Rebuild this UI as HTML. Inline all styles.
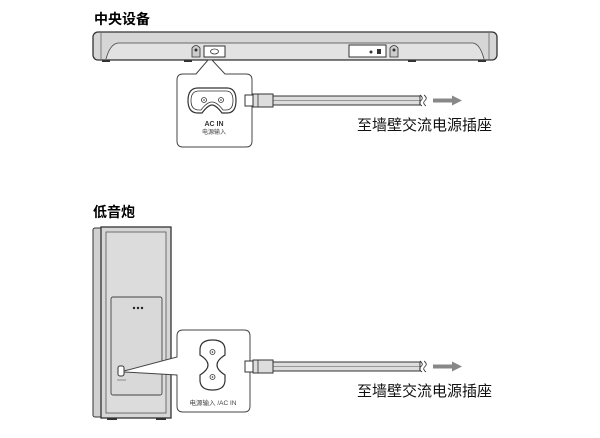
<!DOCTYPE html>
<html><head><meta charset="utf-8"><style>
html,body{margin:0;padding:0;background:#fff;}
svg{display:block;}
text{font-family:"Liberation Sans","Noto Sans CJK SC",sans-serif;}
</style></head><body>
<svg width="600" height="438" viewBox="0 0 600 438" xmlns="http://www.w3.org/2000/svg">
<!-- Titles -->
<text x="94" y="24" font-size="14" font-weight="bold" fill="#000">中央设备</text>
<text x="93" y="217" font-size="14" font-weight="bold" fill="#000">低音炮</text>

<!-- Soundbar -->
<rect x="93" y="32" width="404" height="28" rx="5" fill="#d6d6d6" stroke="#333" stroke-width="1.3"/>
<line x1="101" y1="33" x2="101" y2="59" stroke="#666" stroke-width="0.8"/>
<line x1="489" y1="33" x2="489" y2="59" stroke="#666" stroke-width="0.8"/>
<path d="M106 59 Q110 44 118 43 L473 43 Q480 44 484 59" fill="#e2e2e2" stroke="#444" stroke-width="0.8"/>
<rect x="102" y="60" width="8" height="2" fill="#333"/>
<rect x="184" y="60" width="8" height="2" fill="#333"/>
<rect x="408" y="60" width="8" height="2" fill="#333"/>
<rect x="478" y="60" width="8" height="2" fill="#333"/>
<!-- screw mounts -->
<path d="M192 57 L192 48 Q196 43 200 48 L200 57 Z" fill="#ccc" stroke="#333" stroke-width="0.8"/>
<circle cx="196" cy="50" r="1.5" fill="#333"/>
<path d="M390 57 L390 48 Q394 43 398 48 L398 57 Z" fill="#ccc" stroke="#333" stroke-width="0.8"/>
<circle cx="394" cy="50" r="1.5" fill="#333"/>
<!-- connector -->
<rect x="204" y="46" width="21" height="11" fill="#fff" stroke="#333" stroke-width="1"/>
<ellipse cx="214.5" cy="51.5" rx="4" ry="2.5" fill="#fff" stroke="#333" stroke-width="0.8"/>
<rect x="349" y="45" width="37" height="12" fill="#fff" stroke="#333" stroke-width="1"/>
<circle cx="371" cy="52" r="1.5" fill="#333"/>
<rect x="377" y="49" width="4" height="5" fill="#333"/>

<!-- Callout 1 -->
<path d="M196 74 L208 60 L212 60 L225 74 L246 74 Q252 74 252 80 L252 141 Q252 147 246 147 L183 147 Q177 147 177 141 L177 80 Q177 74 183 74 Z" fill="#fff" stroke="#444" stroke-width="1"/>
<path d="M198 88 L227 88 Q236 88 236 100.5 Q236 113 227 113 L222 113 Q216 105 212 105 Q208 105 202 113 L198 113 Q188 113 188 100.5 Q188 88 198 88 Z" fill="#fff" stroke="#333" stroke-width="1.2"/>
<path d="M199 91 L226 91 Q233 91 233 100.5 Q233 110 226 110 L223 110 Q217 102 212 102 Q207 102 201 110 L199 110 Q191 110 191 100.5 Q191 91 199 91 Z" fill="none" stroke="#333" stroke-width="0.8"/>
<circle cx="204" cy="100" r="2.5" fill="none" stroke="#333" stroke-width="0.8"/><circle cx="204" cy="100" r="0.8" fill="#333"/>
<circle cx="221" cy="100" r="2.5" fill="none" stroke="#333" stroke-width="0.8"/><circle cx="221" cy="100" r="0.8" fill="#333"/>
<text x="214" y="126" font-size="7" font-weight="bold" text-anchor="middle" fill="#333">AC IN</text>
<text x="214" y="134" font-size="6" text-anchor="middle" fill="#444">电源输入</text>

<!-- Plug/cable 1 -->
<g id="plug1">
<rect x="245" y="95" width="8" height="11" fill="#fff" stroke="#333" stroke-width="1"/>
<rect x="253" y="94" width="20" height="13" fill="#ddd" stroke="#333" stroke-width="1"/>
<line x1="258" y1="94" x2="258" y2="107" stroke="#333" stroke-width="0.8"/>
<rect x="273" y="96" width="147" height="9" fill="#ddd" stroke="#333" stroke-width="1"/>
<line x1="273" y1="100.5" x2="420" y2="100.5" stroke="#555" stroke-width="0.6"/>
<path d="M420 95 Q424 98 421 100.5 Q418 103 422 106" fill="none" stroke="#333" stroke-width="0.8"/>
<path d="M424 95 Q428 98 425 100.5 Q422 103 426 106" fill="none" stroke="#333" stroke-width="0.8"/>
<path d="M433 98.5 L452 98.5 L452 95.5 L462 100.5 L452 105.5 L452 102.5 L433 102.5 Z" fill="#888"/>
</g>
<text x="357" y="130" font-size="15" fill="#111">至墙壁交流电源插座</text>

<!-- Subwoofer -->
<rect x="93" y="228" width="10" height="189" rx="2" fill="#d0d0d0" stroke="#333" stroke-width="1"/>
<rect x="101" y="227" width="70" height="191" fill="#d6d6d6" stroke="#333" stroke-width="1.3"/>
<rect x="106" y="232" width="60" height="181" fill="#dcdcdc" stroke="#555" stroke-width="0.8"/>
<rect x="111" y="297" width="51" height="98" rx="2" fill="#d9d9d9" stroke="#444" stroke-width="0.9"/>
<circle cx="134" cy="308" r="1.2" fill="#222"/><circle cx="138" cy="308" r="1.2" fill="#222"/><circle cx="142" cy="308" r="1.2" fill="#222"/>
<rect x="118" y="366" width="6" height="10" rx="2" fill="#fff" stroke="#333" stroke-width="1"/>
<line x1="117" y1="380" x2="126" y2="380" stroke="#555" stroke-width="0.6"/>
<rect x="107" y="418" width="10" height="2" fill="#333"/>
<rect x="156" y="418" width="10" height="2" fill="#333"/>

<!-- Callout 2 -->
<path d="M124 371 L177 357 L177 336 Q177 330 183 330 L244 330 Q250 330 250 336 L250 406 Q250 412 244 412 L183 412 Q177 412 177 406 L177 375 L124 372 Z" fill="#fff" stroke="#444" stroke-width="1"/>
<path d="M200 350 Q200 340 212.5 340 Q225 340 225 350 L225 355 Q217 360 217 365 Q217 370 225 375 L225 380 Q225 390 212.5 390 Q200 390 200 380 L200 375 Q208 370 208 365 Q208 360 200 355 Z" fill="#fff" stroke="#333" stroke-width="1.2"/>
<circle cx="212.5" cy="352" r="2.5" fill="none" stroke="#333" stroke-width="0.8"/><circle cx="212.5" cy="352" r="0.8" fill="#333"/>
<circle cx="212.5" cy="377" r="2.5" fill="none" stroke="#333" stroke-width="0.8"/><circle cx="212.5" cy="377" r="0.8" fill="#333"/>
<text x="213" y="405" font-size="6.5" text-anchor="middle" fill="#444">电源输入 /AC IN</text>

<use href="#plug1" transform="translate(0,266)"/>
<text x="357" y="396" font-size="15" fill="#111">至墙壁交流电源插座</text>
</svg>
</body></html>
